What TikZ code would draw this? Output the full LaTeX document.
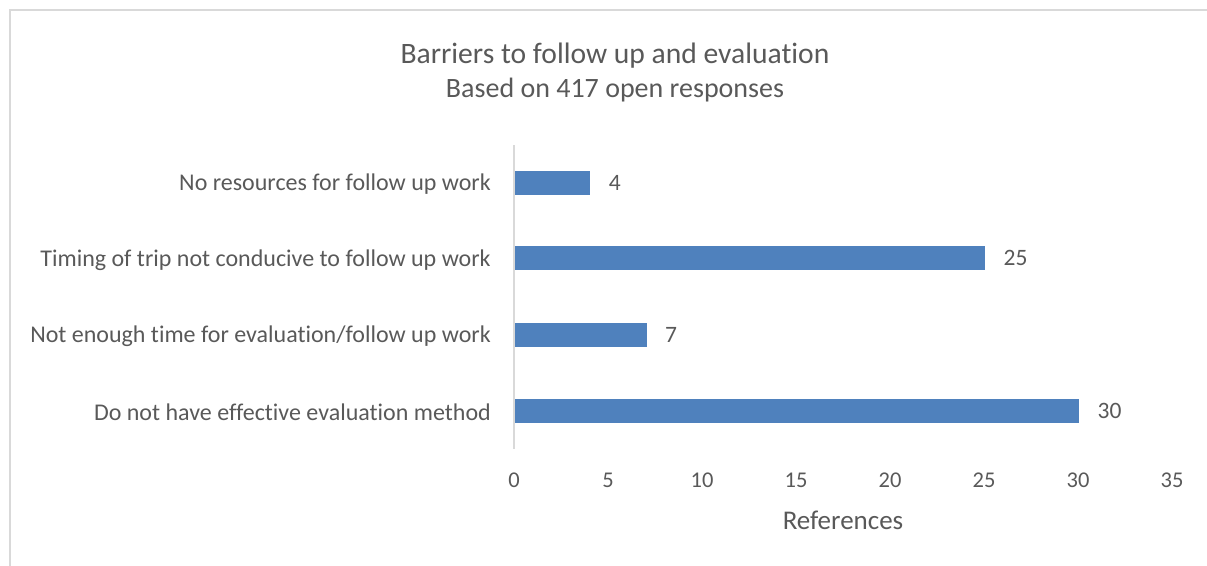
\documentclass[tikz,border=0pt]{standalone}
\usepackage{fontspec}
\setmainfont{Carlito}[Ligatures=NoCommon]
\usetikzlibrary{positioning}
\definecolor{barblue}{HTML}{4F81BD}
\definecolor{txtgrey}{HTML}{595959}
\definecolor{linegrey}{HTML}{D9D9D9}
\tikzset{
  bar/.style={fill=barblue, draw=none, anchor=west, minimum height=24pt, inner sep=0pt},
  catlabel/.style={anchor=east, text=txtgrey, inner sep=0pt, font=\fontsize{24}{28}\selectfont},
  vallabel/.style={text=txtgrey, inner sep=0pt, font=\fontsize{23.5}{28}\selectfont},
  ticklabel/.style={text=txtgrey, inner sep=0pt, font=\fontsize{22.5}{26}\selectfont}
}
\newcommand{\barunit}{18.8}
\begin{document}
\begin{tikzpicture}[x=1pt, y=-1pt]
      \useasboundingbox (0,0) rectangle (1207,565);
      % frame
      \draw[linegrey, line width=1.2pt] (10,570) -- (10,10) -- (1215,10);
      % titles
      \node[text=txtgrey, font=\fontsize{29.6}{34}\selectfont] (title) at (615,56) {Barriers to follow up and evaluation};
      \node[text=txtgrey, font=\fontsize{28}{32}\selectfont] (subtitle) at (615,90) {Based on 417 open responses};
      % bars
      \node[bar, minimum width=4*\barunit pt] (b1) at (515,183) {};
      \node[bar, minimum width=25*\barunit pt] (b2) at (515,258) {};
      \node[bar, minimum width=7*\barunit pt] (b3) at (515,335) {};
      \node[bar, minimum width=30*\barunit pt] (b4) at (515,411) {};
      \node[vallabel, right=18pt of b1] (v1) {4};
      \node[vallabel, right=18pt of b2] (v2) {25};
      \node[vallabel, right=18pt of b3] (v3) {7};
      \node[vallabel, right=18pt of b4] (v4) {30};
      % categories
      \node[catlabel] (c1) at (491,184) {No resources for follow up work};
      \node[catlabel] (c2) at (491,260) {Timing of trip not conducive to follow up work};
      \node[catlabel] (c3) at (491,336) {Not enough time for evaluation/follow up work};
      \node[catlabel] (c4) at (491,412) {Do not have effective evaluation method};
      % axis
      \coordinate (atop) at (514,145);
      \coordinate (abot) at (514,449);
      \draw[linegrey, line width=1.2pt] (atop) -- (abot);
      \node[ticklabel] (t0) at (514,480) {0};
      \node[ticklabel] (t5) at (608,480) {5};
      \node[ticklabel] (t10) at (702,480) {10};
      \node[ticklabel] (t15) at (796,480) {15};
      \node[ticklabel] (t20) at (890,480) {20};
      \node[ticklabel] (t25) at (984,480) {25};
      \node[ticklabel] (t30) at (1078,480) {30};
      \node[ticklabel] (t35) at (1172,480) {35};
      \node[text=txtgrey, inner sep=0pt, font=\fontsize{27}{31}\selectfont] (xtitle) at (843,520) {References};
    \end{tikzpicture}
\end{document}
